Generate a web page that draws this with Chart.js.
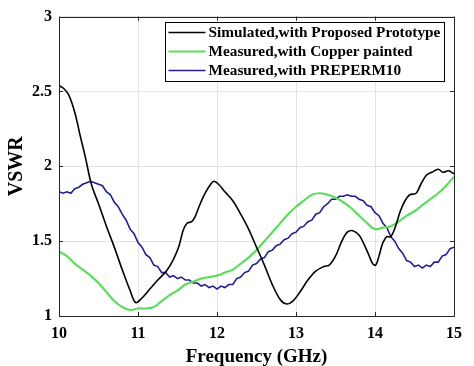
<!DOCTYPE html>
<html>
<head>
<meta charset="utf-8">
<script src="https://cdn.jsdelivr.net/npm/chart.js@4.4.1/dist/chart.umd.min.js"></script>
<style>
html,body{margin:0;padding:0;background:#fff;}
#wrap{width:474px;height:366px;position:relative;}
</style>
</head>
<body>
<div id="wrap"><canvas id="c" width="474" height="366"></canvas></div>
<script>
const seriesNames = ["Simulated,with Proposed Prototype", "Measured,with Copper painted", "Measured,with PREPERM10"];
const xTicks = [10, 11, 12, 13, 14, 15];
const yTicks = [1, 1.5, 2, 2.5, 3];

const simFreq = [10.0,10.06,10.12,10.2,10.27,10.33,10.41,10.5,10.6,10.7,10.8,10.9,10.97,11.05,11.15,11.25,11.36,11.45,11.52,11.57,11.62,11.68,11.72,11.78,11.85,11.92,11.96,12.02,12.1,12.2,12.3,12.4,12.5,12.6,12.7,12.8,12.88,12.96,13.05,13.15,13.25,13.35,13.42,13.5,13.58,13.65,13.72,13.8,13.86,13.92,13.97,14.01,14.05,14.1,14.15,14.2,14.26,14.32,14.38,14.44,14.52,14.58,14.65,14.72,14.8,14.86,14.93,15.0];
const simVswr = [2.54,2.52,2.48,2.36,2.20,2.07,1.88,1.75,1.60,1.46,1.31,1.17,1.09,1.12,1.18,1.24,1.30,1.38,1.47,1.57,1.62,1.63,1.66,1.74,1.82,1.88,1.90,1.88,1.83,1.77,1.68,1.58,1.46,1.34,1.21,1.11,1.08,1.10,1.16,1.24,1.30,1.33,1.34,1.40,1.50,1.56,1.57,1.54,1.48,1.41,1.35,1.34,1.40,1.49,1.53,1.53,1.60,1.70,1.77,1.81,1.82,1.88,1.94,1.96,1.98,1.96,1.97,1.95];

const copperFreq = [10.0,10.1,10.2,10.3,10.4,10.5,10.6,10.7,10.8,10.9,11.0,11.1,11.2,11.3,11.4,11.5,11.6,11.7,11.8,11.9,12.0,12.1,12.2,12.3,12.4,12.5,12.6,12.7,12.8,12.9,13.0,13.1,13.2,13.3,13.4,13.5,13.6,13.7,13.8,13.9,14.0,14.1,14.2,14.3,14.4,14.5,14.6,14.7,14.8,14.9,15.0];
const copperVswr = [1.43,1.40,1.35,1.31,1.27,1.22,1.16,1.10,1.06,1.04,1.05,1.05,1.06,1.10,1.14,1.17,1.21,1.23,1.25,1.26,1.27,1.29,1.31,1.35,1.39,1.44,1.50,1.56,1.62,1.68,1.73,1.77,1.81,1.82,1.81,1.79,1.76,1.72,1.67,1.62,1.58,1.59,1.60,1.63,1.67,1.70,1.74,1.78,1.82,1.87,1.93];

const prepermFreq = [10.0,10.05,10.1,10.15,10.2,10.25,10.3,10.35,10.4,10.45,10.5,10.55,10.6,10.65,10.7,10.75,10.8,10.85,10.9,10.95,11.0,11.05,11.1,11.15,11.2,11.25,11.3,11.35,11.4,11.45,11.5,11.55,11.6,11.65,11.7,11.75,11.8,11.85,11.9,11.95,12.0,12.05,12.1,12.15,12.2,12.25,12.3,12.35,12.4,12.45,12.5,12.55,12.6,12.65,12.7,12.75,12.8,12.85,12.9,12.95,13.0,13.05,13.1,13.15,13.2,13.25,13.3,13.35,13.4,13.45,13.5,13.55,13.6,13.65,13.7,13.75,13.8,13.85,13.9,13.95,14.0,14.05,14.1,14.15,14.2,14.25,14.3,14.35,14.4,14.45,14.5,14.55,14.6,14.65,14.7,14.75,14.8,14.85,14.9,14.95,15.0];
const prepermVswr = [1.83,1.82,1.83,1.82,1.85,1.86,1.88,1.89,1.90,1.89,1.88,1.87,1.83,1.81,1.76,1.73,1.68,1.64,1.58,1.55,1.49,1.46,1.41,1.39,1.34,1.33,1.29,1.29,1.26,1.27,1.25,1.26,1.24,1.24,1.22,1.22,1.20,1.21,1.19,1.20,1.18,1.20,1.19,1.21,1.21,1.25,1.26,1.29,1.30,1.34,1.35,1.38,1.39,1.43,1.44,1.47,1.48,1.51,1.52,1.55,1.56,1.59,1.60,1.63,1.64,1.68,1.69,1.73,1.75,1.78,1.78,1.80,1.80,1.81,1.80,1.80,1.78,1.77,1.74,1.73,1.69,1.67,1.62,1.59,1.53,1.50,1.45,1.42,1.37,1.36,1.33,1.34,1.32,1.34,1.33,1.36,1.36,1.40,1.41,1.45,1.46];

const colors = ["#000000", "#5fdc5f", "#1f1f8f"];
const widths = [1.6, 2.2, 1.6];

function pts(xs, ys){ return xs.map((x,i)=>({x:x, y:ys[i]})); }

const FONT = "'Liberation Serif', 'Times New Roman', serif";

const framePlugin = {
  id: 'frame',
  afterDatasetsDraw(chart){
    const {ctx, chartArea:a, scales} = chart;
    ctx.save();
    ctx.strokeStyle = '#262626';
    ctx.lineWidth = 1;
    ctx.strokeRect(Math.round(a.left)+0.5, Math.round(a.top)+0.5, Math.round(a.right-a.left), Math.round(a.bottom-a.top));
    const tl = 4;
    ctx.beginPath();
    xTicks.forEach(v=>{
      const x = Math.round(scales.x.getPixelForValue(v))+0.5;
      ctx.moveTo(x, a.bottom); ctx.lineTo(x, a.bottom-tl);
      ctx.moveTo(x, a.top); ctx.lineTo(x, a.top+tl);
    });
    yTicks.forEach(v=>{
      const y = Math.round(scales.y.getPixelForValue(v))+0.5;
      ctx.moveTo(a.left, y); ctx.lineTo(a.left+tl, y);
      ctx.moveTo(a.right, y); ctx.lineTo(a.right-tl, y);
    });
    ctx.stroke();
    // legend
    const bx = 165.5, by = 22.5, bw = 279, bh = 59;
    ctx.fillStyle = '#fff';
    ctx.fillRect(bx, by, bw, bh);
    ctx.strokeStyle = '#000';
    ctx.strokeRect(bx, by, bw, bh);
    ctx.font = "bold 15.3px " + FONT;
    ctx.textBaseline = 'middle';
    ctx.textAlign = 'left';
    chart.data.datasets.forEach((ds, i)=>{
      const yy = by + 10 + i*19;
      ctx.strokeStyle = ds.borderColor;
      ctx.lineWidth = ds.borderWidth;
      ctx.beginPath(); ctx.moveTo(bx+3, yy); ctx.lineTo(bx+40, yy); ctx.stroke();
      ctx.fillStyle = '#000';
      ctx.fillText(ds.label, bx+43, yy+1);
    });
    ctx.restore();
  }
};

new Chart(document.getElementById('c'), {
  type: 'line',
  data: {
    datasets: [
      {label: seriesNames[0], data: pts(simFreq, simVswr), borderColor: colors[0], borderWidth: widths[0], pointRadius: 0, tension: 0.35, fill: false},
      {label: seriesNames[1], data: pts(copperFreq, copperVswr), borderColor: colors[1], borderWidth: widths[1], pointRadius: 0, tension: 0.35, fill: false},
      {label: seriesNames[2], data: pts(prepermFreq, prepermVswr), borderColor: colors[2], borderWidth: widths[2], pointRadius: 0, tension: 0, fill: false}
    ]
  },
  options: {
    responsive: false,
    animation: false,
    devicePixelRatio: 1,
    layout: {padding: {top: 12, right: 20, left: 0, bottom: 0}},
    plugins: {legend: {display: false}, tooltip: {enabled: false}},
    scales: {
      x: {
        type: 'linear', min: 10, max: 15,
        afterBuildTicks(s){ s.ticks = xTicks.map(v=>({value:v})); },
        afterFit(s){ s.height = 50; },
        grid: {color: '#e3e3e3', drawTicks: false},
        border: {display: false},
        ticks: {color: '#000', padding: 8, font: {family: FONT, size: 16, weight: 'bold'}, callback: v => String(v)},
        title: {display: true, text: 'Frequency (GHz)', color: '#000', padding: {top: 0, bottom: -2}, font: {family: FONT, size: 19, weight: 'bold'}}
      },
      y: {
        type: 'linear', min: 1, max: 3,
        afterBuildTicks(s){ s.ticks = yTicks.map(v=>({value:v})); },
        afterFit(s){ s.width = 59; },
        grid: {color: '#e3e3e3', drawTicks: false},
        border: {display: false},
        ticks: {color: '#000', padding: 7, font: {family: FONT, size: 16, weight: 'bold'}, callback: v => String(v)},
        title: {display: true, text: 'VSWR', color: '#000', padding: {top: 5, bottom: 0}, font: {family: FONT, size: 20, weight: 'bold'}}
      }
    }
  },
  plugins: [framePlugin]
});
</script>
</body>
</html>
